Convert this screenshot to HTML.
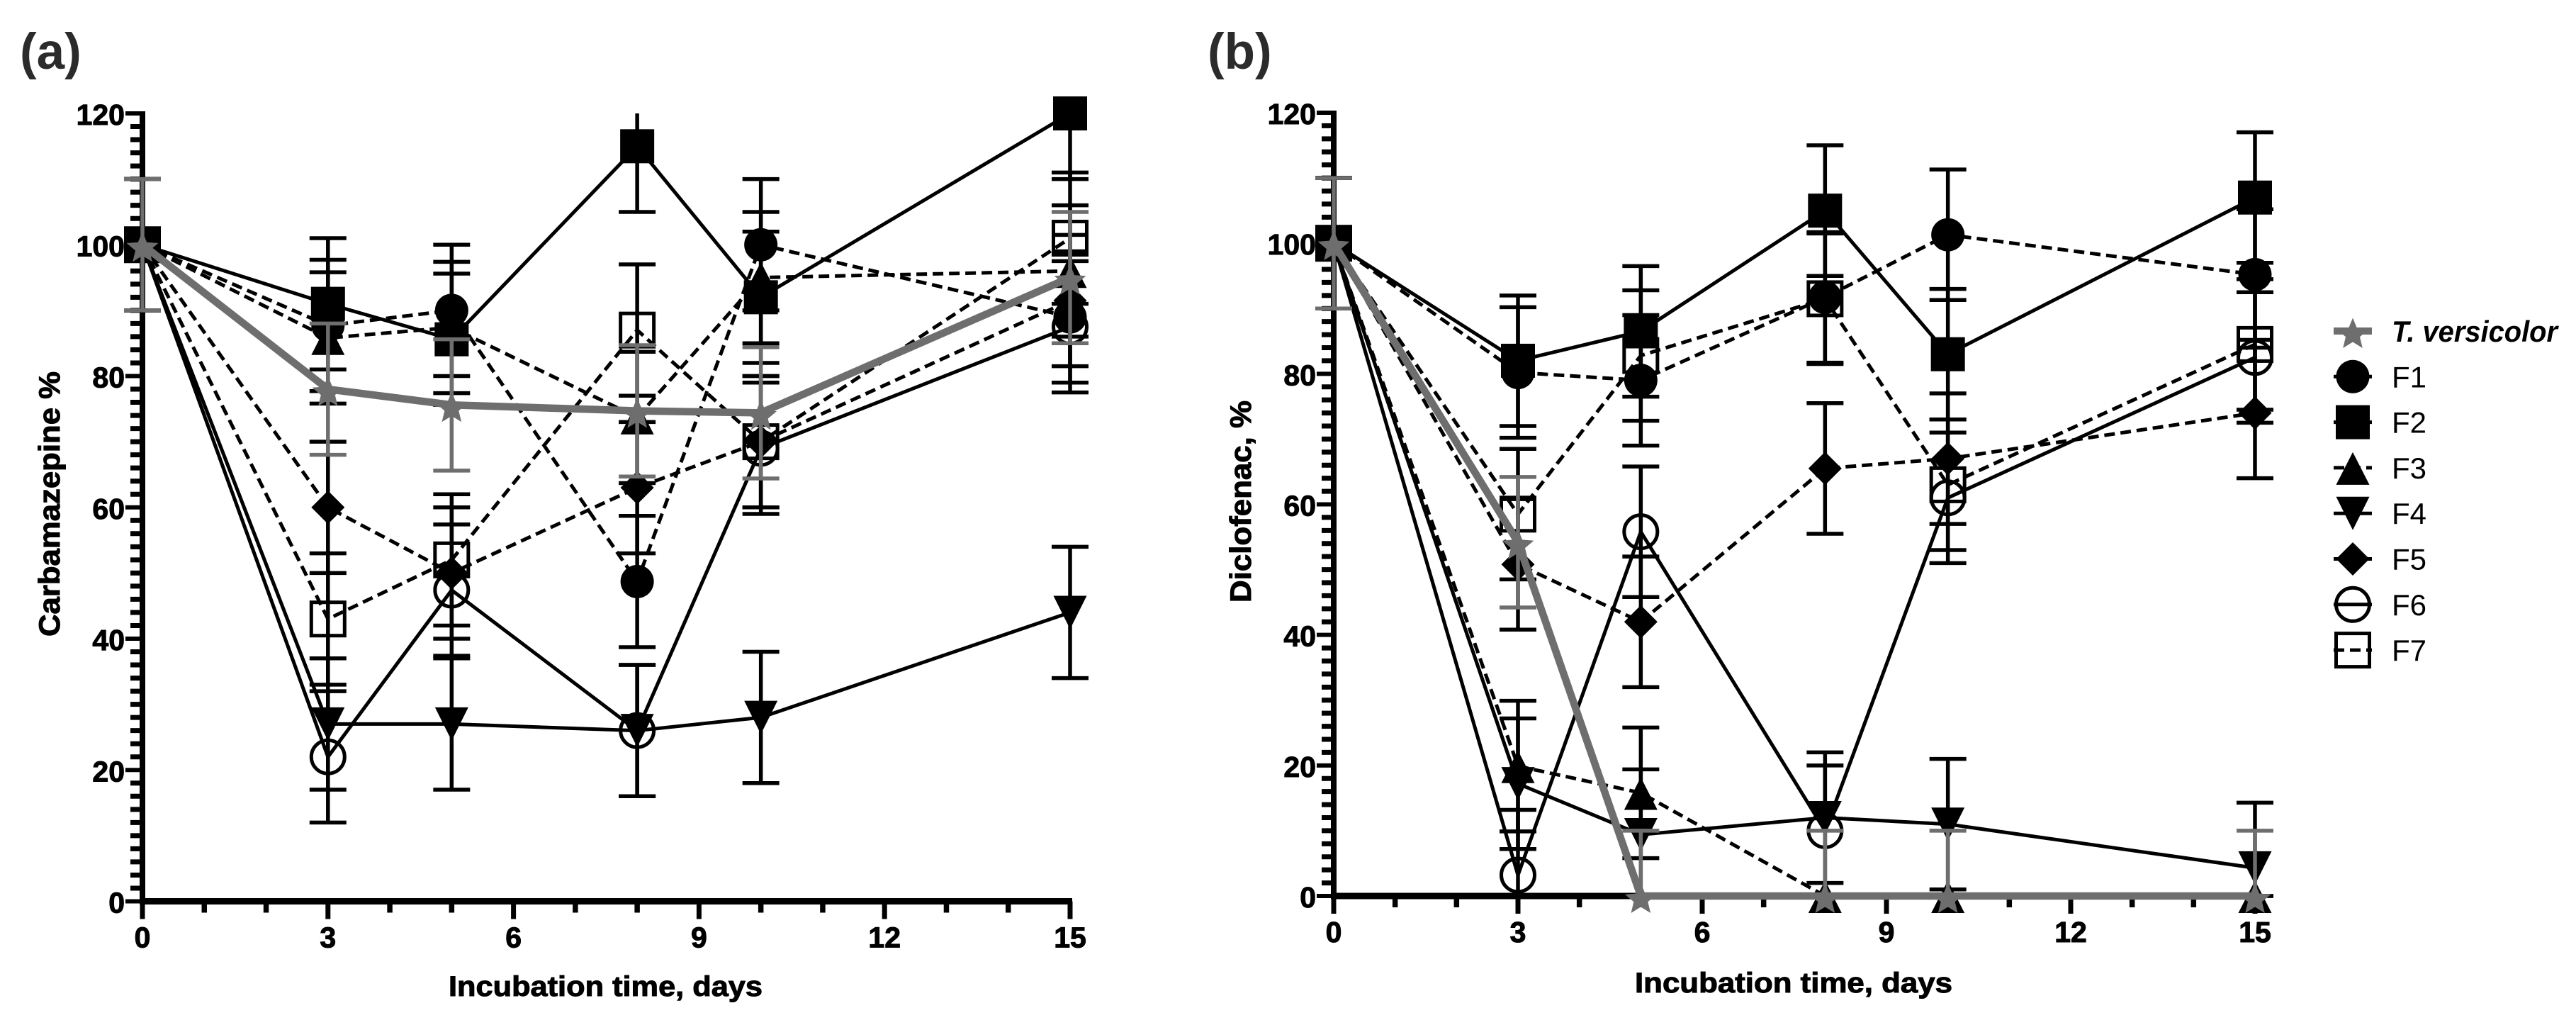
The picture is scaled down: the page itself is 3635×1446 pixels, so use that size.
<!DOCTYPE html>
<html lang="en">
<head>
<meta charset="utf-8">
<title>Carbamazepine and diclofenac removal over incubation time</title>
<style>
  html, body { margin: 0; padding: 0; background: #fff; }
  svg { display: block; }
  text { font-family: "Liberation Sans", Arial, sans-serif; fill: #000; }
  text.heavy { stroke: #000; stroke-width: 1; }
</style>
</head>
<body>
<svg id="figure" xmlns="http://www.w3.org/2000/svg" width="3635" height="1446" viewBox="0 0 3635 1446">
  <rect width="3635" height="1446" fill="#fff"/>
</svg>
<script>
// ---- shared axis data ----
const days = [0, 3, 5, 8, 10, 15];
const xTickLabels = [0, 3, 6, 9, 12, 15];
const yTickLabels = [0, 20, 40, 60, 80, 100, 120];
const seriesNames = ['F1', 'F2', 'F3', 'F4', 'F5', 'F6', 'F7', 'T. versicolor'];

// ---- panel (a) Carbamazepine: means ----
const carbF1 = [100, 87.7, 90, 48.7, 100, 89];
const carbF2 = [100, 91, 85.6, 115, 92, 120];
const carbF3 = [100, 85.8, 87.4, 73.7, 95, 96];
const carbF4 = [100, 27, 27, 26, 28, 44];
const carbF5 = [100, 60, 50, 63, 70, 91.5];
const carbF6 = [100, 22, 47.4, 26, 69, 87.5];
const carbF7 = [100, 43, 52, 87, 70, 101];
const carbT = [100, 78, 75.6, 74.7, 74.4, 95];

// ---- panel (a) Carbamazepine: error half-widths ----
const carbF1Err = [10, 10, 10, 10, 10, 10];
const carbF2Err = [10, 10, 10, 10, 10, 10];
const carbF3Err = [10, 10, 10, 10, 10, 10];
const carbF4Err = [10, 10, 10, 10, 10, 10];
const carbF5Err = [10, 10, 10, 10, 10, 10];
const carbF6Err = [10, 10, 10, 10, 10, 10];
const carbF7Err = [10, 10, 10, 10, 10, 10];
const carbTErr = [10, 10, 10, 10, 10, 10];

// ---- panel (b) Diclofenac: means ----
const dicloF1 = [100, 80.2, 79, 91.7, 101.3, 95.2];
const dicloF2 = [100, 82, 86.5, 105, 83, 107];
const dicloF3 = [100, 19.9, 15.8, 0, 0, 0];
const dicloF4 = [100, 17.2, 9.4, 12, 11, 4.3];
const dicloF5 = [100, 50.8, 42, 65.5, 67, 74];
const dicloF6 = [100, 3.2, 55.8, 10, 61, 82.5];
const dicloF7 = [100, 58.5, 82.8, 91.5, 63, 84.5];
const dicloT = [100, 54.2, 0, 0, 0, 0];

// ---- panel (b) Diclofenac: error half-widths ----
const dicloF1Err = [10, 10, 10, 10, 10, 10];
const dicloF2Err = [10, 10, 10, 10, 10, 10];
const dicloF3Err = [10, 10, 10, 0, 0, 0];
const dicloF4Err = [10, 10, 10, 10, 10, 10];
const dicloF5Err = [10, 10, 10, 10, 10, 10];
const dicloF6Err = [10, 10, 10, 10, 10, 10];
const dicloF7Err = [10, 10, 10, 10, 10, 10];
const dicloTErr = [10, 10, 10, 10, 10, 10];

const carbMeans = [carbF1, carbF2, carbF3, carbF4, carbF5, carbF6, carbF7, carbT];
const carbErrs = [carbF1Err, carbF2Err, carbF3Err, carbF4Err, carbF5Err, carbF6Err, carbF7Err, carbTErr];
const dicloMeans = [dicloF1, dicloF2, dicloF3, dicloF4, dicloF5, dicloF6, dicloF7, dicloT];
const dicloErrs = [dicloF1Err, dicloF2Err, dicloF3Err, dicloF4Err, dicloF5Err, dicloF6Err, dicloF7Err, dicloTErr];

const NS = 'http://www.w3.org/2000/svg';
const root = document.getElementById('figure');
const GRAY = '#6e6e6e';

const seriesStyle = [
  { marker: 'circle', dashed: true, color: '#000', width: 5 },
  { marker: 'square', dashed: false, color: '#000', width: 5 },
  { marker: 'triUp', dashed: true, color: '#000', width: 5 },
  { marker: 'triDown', dashed: false, color: '#000', width: 5 },
  { marker: 'diamond', dashed: true, color: '#000', width: 5 },
  { marker: 'openCircle', dashed: false, color: '#000', width: 5 },
  { marker: 'openSquare', dashed: true, color: '#000', width: 5 },
  { marker: 'star', dashed: false, color: GRAY, width: 10.5 }
];

function make(tag, parent, attrs) {
  const el = document.createElementNS(NS, tag);
  for (const k in attrs) el.setAttribute(k, attrs[k]);
  parent.appendChild(el);
  return el;
}

function slug(name) {
  return name.toLowerCase().replace(/[^a-z0-9]+/g, '-').replace(/-$/, '');
}

function drawMarker(parent, kind, cx, cy, color) {
  const r = 23.5;
  let el;
  if (kind === 'circle') {
    el = make('circle', parent, { cx: cx, cy: cy, r: r, fill: color });
  } else if (kind === 'openCircle') {
    el = make('circle', parent, { cx: cx, cy: cy, r: r, fill: 'none', stroke: color, 'stroke-width': 5 });
  } else if (kind === 'square') {
    el = make('rect', parent, { x: cx - 24, y: cy - 24, width: 48, height: 48, fill: color });
  } else if (kind === 'openSquare') {
    el = make('rect', parent, { x: cx - r, y: cy - r, width: 2 * r, height: 2 * r, fill: 'none', stroke: color, 'stroke-width': 5 });
  } else if (kind === 'triUp') {
    el = make('polygon', parent, { points: [cx, cy - 22, cx + r, cy + 24, cx - r, cy + 24].join(' '), fill: color });
  } else if (kind === 'triDown') {
    el = make('polygon', parent, { points: [cx, cy + r, cx + r, cy - r, cx - r, cy - r].join(' '), fill: color });
  } else if (kind === 'diamond') {
    el = make('polygon', parent, { points: [cx, cy - r, cx + r, cy, cx, cy + r, cx - r, cy].join(' '), fill: color });
  } else {
    const pts = [];
    for (let i = 0; i < 10; i++) {
      const rad = i % 2 === 0 ? 23.5 : 10.5;
      const a = -Math.PI / 2 + i * Math.PI / 5;
      pts.push(cx + rad * Math.cos(a), cy + 5 + rad * Math.sin(a));
    }
    el = make('polygon', parent, { points: pts.join(' '), fill: color });
  }
  return el;
}

function drawPanel(cfg) {
  const xPos = d => cfg.x0 + (d / 15) * (cfg.x15 - cfg.x0);
  const yPos = v => cfg.y0 - (v / 120) * (cfg.y0 - cfg.y120);

  const panel = make('g', root, {});
  
  

  // y axis
  const yAxis = make('g', panel, { stroke: '#000' });
  
  
  make('line', yAxis, { x1: cfg.x0, x2: cfg.x0, y1: cfg.y120 - 3, y2: cfg.y0 + 4, 'stroke-width': 8 });
  for (let v = 0; v <= 120; v += 2) {
    const major = v % 20 === 0;
    make('line', yAxis, { x1: cfg.x0 - (major ? 24 : 17), x2: cfg.x0, y1: yPos(v), y2: yPos(v), 'stroke-width': major ? 6 : 7 });
  }
  yTickLabels.forEach(v => {
    const t = make('text', panel, { x: cfg.x0 - 25, y: yPos(v) + 16, 'text-anchor': 'end', 'font-size': 41, 'font-weight': 700, class: 'heavy' });
    
    
    t.textContent = v;
  });

  // x axis
  const xAxis = make('g', panel, { stroke: '#000' });
  
  
  make('line', xAxis, { x1: cfg.x0 - 4, x2: cfg.x15 + 3, y1: cfg.y0, y2: cfg.y0, 'stroke-width': 9 });
  for (let d = 0; d <= 15; d++) {
    const major = d % 3 === 0;
    make('line', xAxis, { x1: xPos(d), x2: xPos(d), y1: cfg.y0, y2: cfg.y0 + (major ? 25 : 16), 'stroke-width': major ? 7 : 7.5 });
  }
  xTickLabels.forEach(d => {
    const t = make('text', panel, { x: xPos(d), y: cfg.y0 + 65, 'text-anchor': 'middle', 'font-size': 41, 'font-weight': 700, class: 'heavy' });
    
    
    t.textContent = d;
  });

  // titles
  const xt = make('text', panel, { x: cfg.xTitleX, y: cfg.xTitleY, 'font-size': 40, 'font-weight': 700, textLength: cfg.xTitleLen, lengthAdjust: 'spacingAndGlyphs', class: 'heavy' });
  
  
  xt.textContent = 'Incubation time, days';

  const yt = make('text', panel, { transform: 'translate(' + cfg.yTitleX + ' ' + cfg.yTitleY + ') rotate(-90)', 'font-size': 42, 'font-weight': 700, textLength: cfg.yTitleLen, lengthAdjust: 'spacingAndGlyphs', class: 'heavy' });
  
  
  yt.textContent = cfg.yTitle;

  const tag = make('text', panel, { x: cfg.tagX, y: 97, 'font-size': 71, 'font-weight': 700, style: 'fill:#2b2b2b' });
  
  
  tag.textContent = cfg.tag;

  // series
  cfg.means.forEach((vals, s) => {
    const st = seriesStyle[s];
    const errs = cfg.errs[s];
    const g = make('g', panel, {});
    
    

    const pts = vals.map((v, i) => xPos(days[i]) + ',' + yPos(v)).join(' ');
    const line = make('polyline', g, { points: pts, fill: 'none', stroke: st.color, 'stroke-width': st.width, 'stroke-linejoin': 'round' });
    if (st.dashed) line.setAttribute('stroke-dasharray', '15 8');
    
    

    vals.forEach((v, i) => {
      const cx = xPos(days[i]);
      const hi = v + errs[i];
      const lo = v - errs[i];
      const bar = make('g', g, { stroke: st.color, 'stroke-width': 5.5 });
      
      
      make('line', bar, { x1: cx, x2: cx, y1: yPos(Math.min(hi, 120)), y2: yPos(Math.max(lo, 0)) });
      if (hi <= 120) make('line', bar, { x1: cx - 26, x2: cx + 26, y1: yPos(hi), y2: yPos(hi) });
      if (lo >= 0) make('line', bar, { x1: cx - 26, x2: cx + 26, y1: yPos(lo), y2: yPos(lo) });
    });

    vals.forEach((v, i) => {
      const m = drawMarker(g, st.marker, xPos(days[i]), yPos(v), st.color);
      
      
    });
  });
}

drawPanel({
  name: 'carbamazepine-panel', tag: '(a)', tagX: 28,
  x0: 201, x15: 1510, y0: 1271.5, y120: 160,
  means: carbMeans, errs: carbErrs,
  yTitle: 'Carbamazepine %', yTitleX: 84, yTitleY: 898, yTitleLen: 374,
  xTitleX: 633, xTitleY: 1405, xTitleLen: 443
});

drawPanel({
  name: 'diclofenac-panel', tag: '(b)', tagX: 1704,
  x0: 1882, x15: 3182, y0: 1264, y120: 159,
  means: dicloMeans, errs: dicloErrs,
  yTitle: 'Diclofenac, %', yTitleX: 1765, yTitleY: 850, yTitleLen: 285,
  xTitleX: 2307, xTitleY: 1400, xTitleLen: 448
});

// legend
const legend = make('g', root, {});


const legendOrder = [7, 0, 1, 2, 3, 4, 5, 6];
legendOrder.forEach((s, row) => {
  const st = seriesStyle[s];
  const ly = 467 + row * 64.3;
  const entry = make('g', legend, {});
  
  
  const l = make('line', entry, { x1: 3293, x2: 3347, y1: ly, y2: ly, stroke: st.color, 'stroke-width': s === 7 ? 10 : 5 });
  if (st.dashed) l.setAttribute('stroke-dasharray', '15 8');
  drawMarker(entry, st.marker, 3320, ly, st.color);
  const t = make('text', entry, { x: 3375, y: ly + 15, 'font-size': 42 });
  if (s === 7) {
    t.setAttribute('font-style', 'italic');
    t.setAttribute('font-weight', '700');
    t.setAttribute('textLength', '234');
    t.setAttribute('lengthAdjust', 'spacingAndGlyphs');
  }
  t.textContent = seriesNames[s];
});
</script>
</body>
</html>
